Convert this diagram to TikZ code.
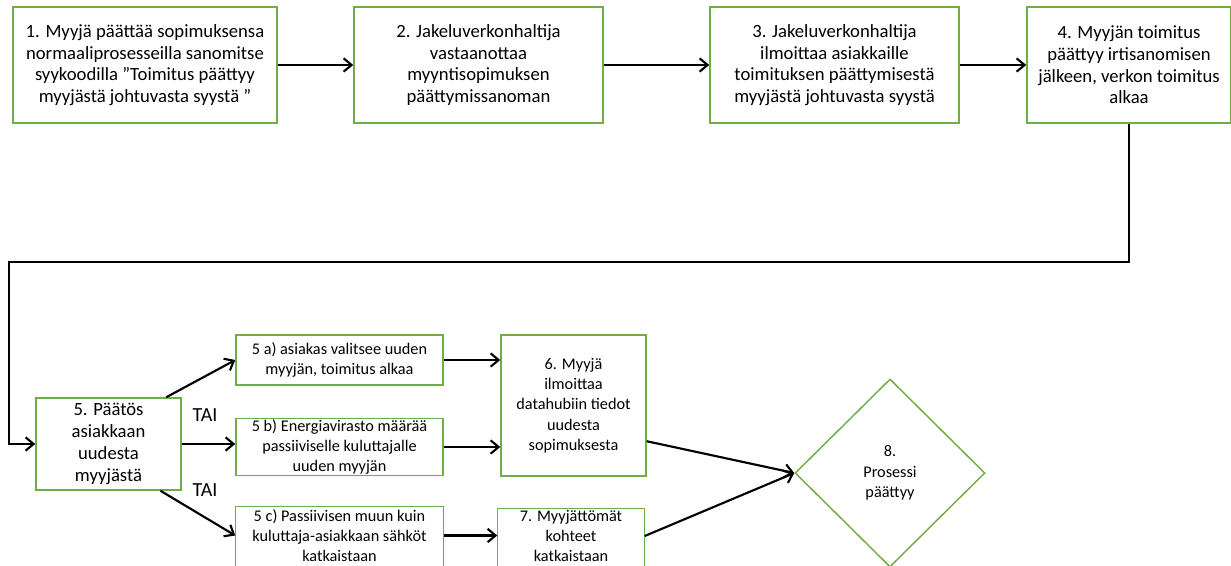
\documentclass[tikz,border=0pt]{standalone}
\usepackage{fontspec}
\setmainfont{Carlito}
\usetikzlibrary{arrows.meta,shapes.geometric}

\definecolor{boxgreen}{RGB}{112,173,71}

\tikzset{every picture/.style={line width=0.75pt}}
\tikzset{
  stepbox/.style={draw=boxgreen, line width=1.1pt, align=center, inner sep=0pt,
    font=\fontsize{14}{16.3}\selectfont},
  smallbox/.style={stepbox, font=\fontsize{12.2}{15.2}\selectfont},
  cutbox/.style={smallbox, draw=none},
  boxedge/.style={draw=boxgreen, line width=1.1pt},
  flow/.style={draw=black, line width=1.6pt, -{Straight Barb[length=6pt,width=10pt]}},
  orlabel/.style={inner sep=0pt, font=\fontsize{15}{18}\selectfont}
}

\begin{document}
\begin{tikzpicture}[x=0.75pt,y=0.75pt,yscale=-1,xscale=1]
\useasboundingbox (0,0) rectangle (1231,565);
\clip (0,0) rectangle (1231,565);

%Shape: Rectangle [top row]
\node (n1) at (145,65) [stepbox, minimum width=198pt, minimum height=87pt] {1. Myyjä päättää sopimuksensa\\normaaliprosesseilla sanomitse\\syykoodilla ”Toimitus päättyy\\myyjästä johtuvasta syystä ”};
\node (n2) at (478.5,65) [stepbox, minimum width=186.75pt, minimum height=87pt] {2. Jakeluverkonhaltija\\vastaanottaa\\myyntisopimuksen\\päättymissanoman};
\node (n3) at (834.5,65) [stepbox, minimum width=186.75pt, minimum height=87pt] {3. Jakeluverkonhaltija\\ilmoittaa asiakkaille\\toimituksen päättymisestä\\myyjästä johtuvasta syystä};
\node (n4) at (1129,65) [stepbox, minimum width=153pt, minimum height=87pt] {4. Myyjän toimitus\\päättyy irtisanomisen\\jälkeen, verkon toimitus\\alkaa};

%Shape: Rectangle [decision]
\node (n5) at (108.5,444) [stepbox, minimum width=108.75pt, minimum height=69pt] {5. Päätös\\asiakkaan\\uudesta\\myyjästä};
\node (n5a) at (339.5,360) [smallbox, minimum width=155.25pt, minimum height=37.5pt] {5 a) asiakas valitsee uuden\\myyjän, toimitus alkaa};
\node (n5b) at (339.5,447) [smallbox, minimum width=155.25pt, minimum height=42.75pt] {5 b) Energiavirasto määrää\\passiiviselle kuluttajalle\\uuden myyjän};
\node (n5c) at (339.5,535.5) [cutbox, minimum width=155.25pt, minimum height=42.75pt] {5 c) Passiivisen muun kuin\\kuluttaja-asiakkaan sähköt\\katkaistaan};
\draw [boxedge] (n5c.north west) rectangle ([yshift=12pt]n5c.south east);

%Shape: Rectangle [end steps]
\node (n6) at (573.5,405.5) [smallbox, minimum width=108.75pt, minimum height=105.75pt] {6. Myyjä\\ilmoittaa\\datahubiin tiedot\\uudesta\\sopimuksesta};
\node (n7) at (571,536) [cutbox, minimum width=109.5pt, minimum height=40.5pt] {7. Myyjättömät\\kohteet\\katkaistaan};
\draw [boxedge] (n7.north west) rectangle ([yshift=12pt]n7.south east);

%Shape: Diamond
\node (n8) at (890,473) [smallbox, diamond, aspect=1, minimum width=142.5pt, minimum height=141pt] {8.\\Prosessi\\päättyy};

% Text Node
\node (tai1) at (205,415) [orlabel] {TAI};
\node (tai2) at (205,490) [orlabel] {TAI};

%Straight Lines
\coordinate (bend) at (9,262);
\draw [flow] (n1.east) -- (n2.west);
\draw [flow] (n2.east) -- (n3.west);
\draw [flow] (n3.east) -- (n4.west);
\draw [flow] (n4.south) |- (bend) |- (n5.west);

\draw [flow] (n5.39) -- (n5a.west);
\draw [flow] (n5.east) -- (n5.east -| n5b.west);
\draw [flow] (n5.-42) -- (n5c.west);

\draw [flow] (n5a.east) -- (n5a.east -| n6.west);
\draw [flow] (n5b.east) -- (n5b.east -| n6.west);
\draw [flow] (n5c.east) -- (n5c.east -| n7.west);

\draw [flow] (n6.-26) -- (n8.west);
\draw [flow] (n7.east) -- (n8.west);

\end{tikzpicture}
\end{document}
